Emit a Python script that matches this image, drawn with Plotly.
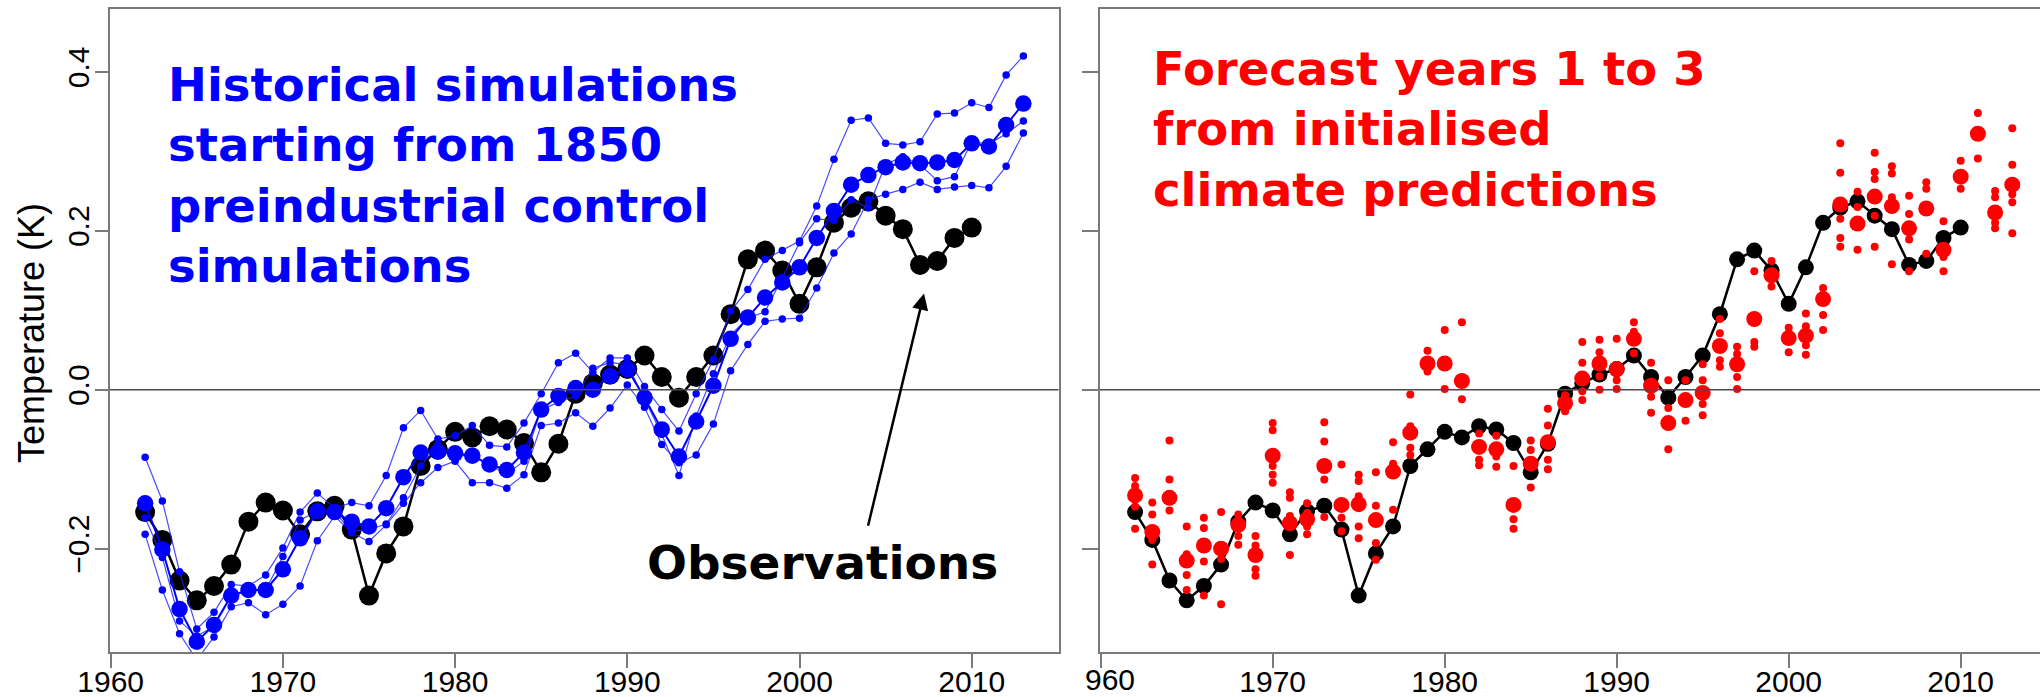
import plotly.graph_objects as go

# ---------------- data ----------------
years = list(range(1962, 2014))
obs_years = list(range(1962, 2011))

obs = [-0.154, -0.189, -0.240, -0.265, -0.247, -0.220, -0.166, -0.142, -0.152, -0.182,
       -0.153, -0.146, -0.176, -0.259, -0.206, -0.172, -0.096, -0.075, -0.053, -0.060,
       -0.046, -0.050, -0.067, -0.104, -0.068, -0.005, 0.008, 0.019, 0.026, 0.043,
       0.016, -0.010, 0.016, 0.043, 0.095, 0.164, 0.175, 0.150, 0.108, 0.154,
       0.210, 0.229, 0.237, 0.219, 0.202, 0.157, 0.162, 0.191, 0.204]

hist_mean = [-0.143, -0.201, -0.276, -0.317, -0.296, -0.259, -0.252, -0.252, -0.226, -0.187,
             -0.153, -0.154, -0.166, -0.172, -0.149, -0.110, -0.079, -0.078, -0.080, -0.083,
             -0.094, -0.101, -0.079, -0.025, -0.008, 0.002, 0.000, 0.017, 0.026, -0.010,
             -0.050, -0.084, -0.040, 0.005, 0.064, 0.091, 0.116, 0.135, 0.154, 0.191,
             0.225, 0.258, 0.270, 0.280, 0.286, 0.285, 0.286, 0.289, 0.310, 0.306,
             0.333, 0.360]

hist_a = [-0.085, -0.140, -0.229, -0.301, -0.280, -0.245, -0.247, -0.233, -0.199, -0.154,
          -0.130, -0.149, -0.142, -0.146, -0.108, -0.048, -0.026, -0.062, -0.058, -0.045,
          -0.070, -0.072, -0.042, -0.005, 0.034, 0.046, 0.022, 0.040, 0.040, 0.004,
          -0.025, -0.052, -0.005, 0.038, 0.099, 0.126, 0.164, 0.175, 0.187, 0.231,
          0.290, 0.339, 0.342, 0.310, 0.308, 0.312, 0.347, 0.348, 0.361, 0.355,
          0.396, 0.420]

hist_b = [-0.161, -0.211, -0.291, -0.310, -0.298, -0.260, -0.253, -0.252, -0.210, -0.164,
          -0.153, -0.154, -0.178, -0.176, -0.169, -0.136, -0.096, -0.070, -0.082, -0.084,
          -0.095, -0.106, -0.090, -0.025, -0.016, -0.008, 0.027, 0.034, 0.032, -0.012,
          -0.056, -0.108, -0.033, 0.020, 0.069, 0.090, 0.098, 0.141, 0.185, 0.215,
          0.213, 0.239, 0.229, 0.284, 0.293, 0.283, 0.263, 0.268, 0.312, 0.309,
          0.322, 0.338]

hist_c = [-0.182, -0.252, -0.307, -0.340, -0.311, -0.273, -0.268, -0.283, -0.270, -0.247,
          -0.190, -0.159, -0.180, -0.191, -0.170, -0.143, -0.117, -0.098, -0.090, -0.117,
          -0.117, -0.124, -0.107, -0.045, -0.042, -0.029, -0.046, -0.023, 0.006, -0.022,
          -0.069, -0.092, -0.082, -0.043, 0.024, 0.057, 0.086, 0.089, 0.090, 0.128,
          0.172, 0.196, 0.239, 0.246, 0.252, 0.261, 0.252, 0.255, 0.257, 0.254,
          0.281, 0.323]

fc_mean = [-0.133, -0.179, -0.136, -0.215, -0.196, -0.200, -0.170, -0.208, -0.083, -0.168,
           -0.163, -0.096, -0.145, -0.144, -0.164, -0.103, -0.054, 0.033, 0.033, 0.011,
           -0.072, -0.075, -0.145, -0.093, -0.066, -0.017, 0.014, 0.033, 0.026, 0.064,
           0.005, -0.042, -0.013, -0.004, 0.055, 0.032, 0.089, 0.144, 0.065, 0.068,
           0.114, 0.233, 0.209, 0.243, 0.231, 0.203, 0.228, 0.176, 0.268, 0.322,
           0.223, 0.258]

fc_members = [
    [-0.111, -0.121, -0.147, -0.175], [-0.142, -0.157, -0.189, -0.220], [-0.064, -0.113, -0.152],
    [-0.172, -0.207, -0.233, -0.252], [-0.161, -0.174, -0.216, -0.259], [-0.154, -0.213, -0.270],
    [-0.157, -0.184, -0.195], [-0.184, -0.196, -0.226, -0.234], [-0.042, -0.051, -0.096, -0.107, -0.117],
    [-0.129, -0.136, -0.159, -0.208], [-0.143, -0.155, -0.172, -0.182], [-0.041, -0.065, -0.113, -0.160],
    [-0.094, -0.161, -0.178], [-0.107, -0.115, -0.134, -0.172, -0.187], [-0.104, -0.146, -0.193, -0.214],
    [-0.066, -0.093, -0.151], [-0.006, -0.046, -0.073, -0.082], [0.049, 0.023],
    [0.075, 0.001], [0.085, -0.012], [-0.055, -0.088, -0.095],
    [-0.058, -0.084, -0.097], [-0.096, -0.163, -0.175], [-0.064, -0.076, -0.123],
    [-0.024, -0.045, -0.088, -0.100], [-0.007, -0.027], [0.060, 0.034, -0.002, -0.013],
    [0.063, 0.047, 0.017, 0.000], [0.064, 0.012, 0.001], [0.085, 0.073, 0.046],
    [0.034, -0.009, -0.029], [0.012, -0.023, -0.075], [0.012, -0.039],
    [0.032, 0.012, -0.018, -0.032], [0.089, 0.071, 0.037, 0.029], [0.054, 0.045, 0.016, 0.001],
    [0.149, 0.060, 0.054], [0.162, 0.130], [0.078, 0.047],
    [0.096, 0.080, 0.056, 0.044], [0.128, 0.094, 0.075], [0.310, 0.273, 0.215, 0.191, 0.180],
    [0.249, 0.230, 0.176], [0.298, 0.274, 0.265, 0.219, 0.180], [0.281, 0.272, 0.242, 0.158],
    [0.244, 0.221, 0.189, 0.149], [0.261, 0.253, 0.171], [0.212, 0.167, 0.149],
    [0.288, 0.253], [0.348, 0.291], [0.250, 0.242, 0.210, 0.203],
    [0.329, 0.283, 0.246, 0.236, 0.197],
]

x_ticks = [1960, 1970, 1980, 1990, 2000, 2010]
x_ticklabels_left = ["1960", "1970", "1980", "1990", "2000", "2010"]
x_ticklabels_right = ["", "1970", "1980", "1990", "2000", "2010"]
y_ticks = [-0.2, 0.0, 0.2, 0.4]
y_ticklabels = ["\u22120.2", "0.0", "0.2", "0.4"]

# ---------------- layout geometry ----------------
W, H = 2040, 697
TICK_FONT = dict(family="Liberation Sans, Arial, sans-serif", size=30, color="black")
BOLD_FONT = "DejaVu Sans, Verdana, sans-serif"
AX_COL = "#7a7a7a"

fig = go.Figure()

# left panel
fig.add_trace(go.Scatter(x=obs_years, y=obs, mode="lines+markers",
                         line=dict(color="black", width=2.5),
                         marker=dict(size=20, color="black"),
                         xaxis="x", yaxis="y", showlegend=False))
for member in (hist_a, hist_b, hist_c):
    fig.add_trace(go.Scatter(x=years, y=member, mode="lines+markers",
                             line=dict(color="rgba(30,30,255,0.8)", width=1.2),
                             marker=dict(size=7.5, color="#0000ff"),
                             xaxis="x", yaxis="y", showlegend=False))
fig.add_trace(go.Scatter(x=years, y=hist_mean, mode="lines+markers",
                         line=dict(color="#0000ff", width=2),
                         marker=dict(size=16.5, color="#0000ff"),
                         xaxis="x", yaxis="y", showlegend=False))

# right panel
fig.add_trace(go.Scatter(x=obs_years, y=obs, mode="lines+markers",
                         line=dict(color="black", width=2.5),
                         marker=dict(size=16, color="black"),
                         xaxis="x2", yaxis="y2", showlegend=False))
mem_x = [yr for yr, vals in zip(years, fc_members) for _ in vals]
mem_y = [v for vals in fc_members for v in vals]
fig.add_trace(go.Scatter(x=mem_x, y=mem_y, mode="markers",
                         marker=dict(size=8, color="#ff0000"),
                         xaxis="x2", yaxis="y2", showlegend=False))
fig.add_trace(go.Scatter(x=years, y=fc_mean, mode="markers",
                         marker=dict(size=16, color="#ff0000"),
                         xaxis="x2", yaxis="y2", showlegend=False))

y_dom = [1 - 652 / H, 1 - 9 / H]
y_rng = [-0.330, 0.479]
x_rng_left = [1959.96, 2015.04]
x_rng_right = [1959.96, 1959.96 + 940 / 17.2]

common_x = dict(tickmode="array", tickvals=x_ticks, ticks="outside", ticklen=14,
                tickwidth=2, tickcolor=AX_COL, showline=True, linecolor=AX_COL,
                linewidth=2, mirror=True, showgrid=False, zeroline=False,
                tickfont=TICK_FONT, automargin=False, ticklabelstandoff=-12)
common_y = dict(tickmode="array", tickvals=y_ticks, ticks="outside",
                tickwidth=2, tickcolor=AX_COL, showline=True, linecolor=AX_COL,
                linewidth=2, showgrid=False, zeroline=False, domain=y_dom,
                range=y_rng, tickfont=TICK_FONT, automargin=False)

fig.update_layout(
    width=W, height=H, margin=dict(l=0, r=0, t=0, b=0, autoexpand=False),
    paper_bgcolor="white", plot_bgcolor="white",
    xaxis=dict(common_x, domain=[110 / W, 1058.5 / W], range=x_rng_left,
               ticktext=x_ticklabels_left, anchor="y"),
    yaxis=dict(common_y, ticktext=y_ticklabels, tickangle=-90, ticklen=13,
               mirror=True, anchor="x", ticklabelstandoff=-6),
    xaxis2=dict(common_x, domain=[1100 / W, 1.0], range=x_rng_right,
                ticktext=x_ticklabels_right, anchor="y2"),
    yaxis2=dict(common_y, showticklabels=False, ticklen=16, mirror=False,
                anchor="x2"),
)

# zero lines
for xr, yr in (("x domain", "y"), ("x2 domain", "y2")):
    fig.add_shape(type="line", xref=xr, yref=yr, x0=0, x1=1, y0=0, y1=0,
                  line=dict(color="#4a4a4a", width=1.5))

annotations = [
    dict(text="Historical simulations<br>starting from 1850<br>preindustrial control<br>simulations",
         xref="x", yref="y", x=1963.2, y=0.270, xanchor="left", yanchor="middle",
         align="left", showarrow=False,
         font=dict(family=BOLD_FONT, size=46.5, color="#0000ff", weight="bold")),
    dict(text="Forecast years 1 to 3<br>from initialised<br>climate predictions",
         xref="x2", yref="y2", x=1962.93, y=0.327, xanchor="left", yanchor="middle",
         align="left", showarrow=False,
         font=dict(family=BOLD_FONT, size=46.5, color="#ff0000", weight="bold")),
    dict(text="Observations", xref="x", yref="y", x=2001.33, y=-0.218,
         xanchor="center", yanchor="middle", showarrow=False,
         font=dict(family=BOLD_FONT, size=47, color="black", weight="bold")),
    dict(text="", xref="x", yref="y", x=2007.23, y=0.121,
         axref="x", ayref="y", ax=2003.96, ay=-0.173, showarrow=True,
         arrowhead=2, arrowsize=1.3, arrowwidth=2.5, arrowcolor="black"),
    dict(text="Temperature (K)", xref="paper", yref="paper", x=31 / W, y=1 - 333 / H,
         xanchor="center", yanchor="middle", textangle=-90, showarrow=False,
         font=dict(family="Liberation Sans, Arial, sans-serif", size=36, color="black")),
    dict(text="960", xref="paper", yref="paper", x=1109.7 / W, y=1 - 679.5 / H,
         xanchor="center", yanchor="middle", showarrow=False,
         font=TICK_FONT),
]
fig.update_layout(annotations=annotations)

fig.write_html("out.html")
